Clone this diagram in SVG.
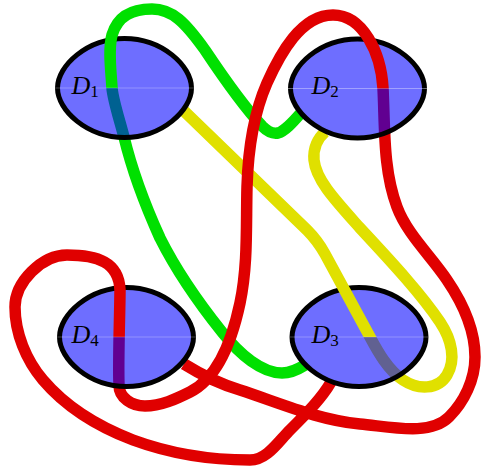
<svg xmlns="http://www.w3.org/2000/svg" width="482" height="471" viewBox="0 0 482 471">
<style>
.half{fill:#0000ff;fill-opacity:0.57;stroke:#000;stroke-width:5;}
.seam{stroke:#ffffff;stroke-opacity:0.25;stroke-width:1;}
.wire{fill:none;stroke-width:11.5;stroke-linecap:butt;stroke-linejoin:round;}
.g{stroke:#00e000}.y{stroke:#e0e000}.r{stroke:#e00000}
.lbl{font-family:"Liberation Serif","DejaVu Serif",serif;font-style:italic;font-size:26px;fill:#000}
.sub{font-style:normal;font-size:17px}
</style>
<defs>
<path id="top" d="M -67 0 C -67 -22.3 -37.5 -49.5 0 -49.5 C 37.5 -49.5 67 -22.3 67 0"/>
<path id="bot" d="M -67 0 C -67 22.3 -37.5 49.5 0 49.5 C 37.5 49.5 67 22.3 67 0"/>
</defs>
<rect width="482" height="471" fill="#fff"/>
<g id="D1-back"><use href="#top" class="half" transform="translate(124.5,88)"/></g>
<g id="D2-back"><use href="#top" class="half" transform="translate(357.5,88.5)"/></g>
<g id="D3-back"><use href="#top" class="half" transform="translate(359,337)"/></g>
<g id="D4-back"><use href="#top" class="half" transform="translate(126.5,337)"/></g>
<g id="connectors">
<path class="wire g" d="M 305 365 C 297 370, 290 373, 282 373 C 262 373, 240 355, 222 332 C 198 302, 175 268, 160 238 C 145 205, 132 170, 124 137 C 119 118, 113 100, 112 88 C 111 70, 108 50, 112 35 C 118 15, 133 9, 152 9 C 172 9, 185 22, 205 50 C 225 80, 245 108, 262 126 C 268 132, 273 134, 278 133 C 285 131, 293 122, 300 114"/>
<path class="wire y" d="M 184 111 L 307 230 C 315 238, 320 245, 325 254 L 370 337 C 378 352, 388 370, 403 380 C 418 390, 438 390, 447 375 C 456 360, 452 340, 440 322 C 420 292, 385 255, 360 228 C 335 200, 316 180, 314 160 C 313 148, 318 138, 325 132"/>
<path class="wire r" d="M 184 364 C 200 374, 220 384, 240 390 C 280 403, 318 420, 360 424 C 392 427, 430 436, 449 417 C 464 402, 475 380, 475 357 C 475 330, 462 302, 447 280 C 431 256, 407 234, 397 207 C 383 170, 385 128, 383 88 C 381 53, 363 15, 333 15 C 301 15, 280 54, 267 83 C 253 115, 248 152, 247 187 C 246 226, 248 265, 240 303 C 233 336, 220 377, 190 392 C 176 399, 161 406, 145 406 C 132 406, 119 398, 119 385 C 118 360, 120 310, 120 290 C 119 262, 97 255, 67 255 C 42 255, 15 282, 15 307 C 15 333, 26 360, 43 380 C 66 407, 99 427, 133 440 C 171 454, 210 460, 250 460 C 267 460, 278 442, 290 430 C 306 414, 322 398, 331 382"/>
</g>
<g id="D1">
<use href="#bot" class="half" transform="translate(124.5,88)"/>
<line class="seam" x1="55" y1="88" x2="194" y2="88"/>
<text class="lbl" x="71.5" y="93.5">D<tspan class="sub" dy="3.5">1</tspan></text>
</g>
<g id="D2">
<use href="#bot" class="half" transform="translate(357.5,88.5)"/>
<line class="seam" x1="288" y1="88.5" x2="427" y2="88.5"/>
<text class="lbl" x="311.5" y="93.5">D<tspan class="sub" dy="3.5">2</tspan></text>
</g>
<g id="D3">
<use href="#bot" class="half" transform="translate(359,337)"/>
<line class="seam" x1="289.5" y1="337" x2="428.5" y2="337"/>
<text class="lbl" x="311.5" y="342.5">D<tspan class="sub" dy="3.5">3</tspan></text>
</g>
<g id="D4">
<use href="#bot" class="half" transform="translate(126.5,337)"/>
<line class="seam" x1="57" y1="337" x2="196" y2="337"/>
<text class="lbl" x="71.5" y="342.5">D<tspan class="sub" dy="3.5">4</tspan></text>
</g>
</svg>
